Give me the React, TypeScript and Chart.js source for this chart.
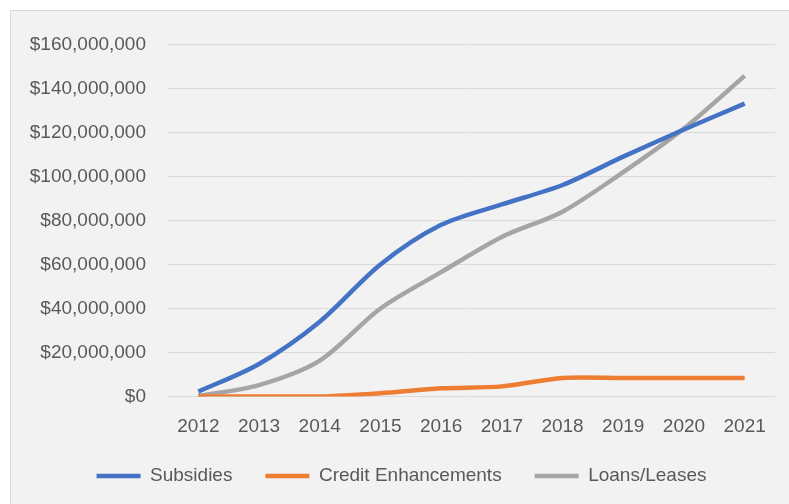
import React, { useEffect, useRef } from "react";
import { Chart, registerables } from "chart.js";

Chart.register(...registerables);

const years = ["2012", "2013", "2014", "2015", "2016", "2017", "2018", "2019", "2020", "2021"];
const subsidies = [2200000, 14800000, 34000000, 60000000, 78000000, 87300000, 96100000, 109000000, 121300000, 133100000];
const creditEnhancements = [0, 0, 0, 1500000, 3700000, 4600000, 8400000, 8400000, 8400000, 8400000];
const loansLeases = [300000, 5200000, 16300000, 40000000, 56500000, 72500000, 84000000, 102000000, 121800000, 145700000];
const yMin = 0;
const yMax = 160000000;
const yStep = 20000000;

const FONT = "'Liberation Sans', Arial, sans-serif";
const TEXT = "#595959";

export default function App() {
  const ref = useRef<HTMLCanvasElement | null>(null);
  useEffect(() => {
    if (!ref.current) return;
    const chart = new Chart(ref.current, {
      type: "line",
      data: {
        labels: years,
        datasets: [
          { label: "Subsidies", data: subsidies, borderColor: "#4472C4", backgroundColor: "#4472C4", borderWidth: 4.5, pointRadius: 0, pointStyle: "line", tension: 0.3 },
          { label: "Credit Enhancements", data: creditEnhancements, borderColor: "#ED7D31", backgroundColor: "#ED7D31", borderWidth: 4.5, pointRadius: 0, pointStyle: "line", tension: 0.3 },
          { label: "Loans/Leases", data: loansLeases, borderColor: "#A5A5A5", backgroundColor: "#A5A5A5", borderWidth: 4.5, pointRadius: 0, pointStyle: "line", tension: 0.3 },
        ],
      },
      options: {
        animation: false,
        responsive: true,
        maintainAspectRatio: false,
        layout: { padding: { left: 17, right: 14, top: 25, bottom: 8.5 } },
        plugins: {
          legend: {
            position: "bottom",
            labels: {
              usePointStyle: true,
              pointStyleWidth: 44,
              padding: 33,
              color: TEXT,
              font: { family: FONT, size: 19 },
            },
          },
          tooltip: { enabled: false },
        },
        scales: {
          x: {
            offset: true,
            grid: { display: false, drawTicks: false },
            border: { display: false },
            ticks: { color: TEXT, font: { family: FONT, size: 19 }, padding: 19, maxRotation: 0 },
            afterFit: (s: any) => { s.height = 37; },
          },
          y: {
            min: yMin,
            max: yMax,
            grid: { color: "#d9d9d9", lineWidth: 1, drawTicks: false },
            border: { display: false },
            ticks: {
              stepSize: yStep,
              padding: 22,
              color: TEXT,
              font: { family: FONT, size: 19 },
              callback: (v: any) => "$" + Number(v).toLocaleString("en-US"),
            },
            afterFit: (s: any) => { s.width = 140; },
          },
        },
      },
    });
    return () => chart.destroy();
  }, []);
  return (
    <div style={{ position: "fixed", left: 0, top: 0, width: 789, height: 504, background: "#ffffff" }}>
      <div style={{ position: "absolute", left: 10, top: 10, width: 779, height: 494, boxSizing: "border-box", background: "#f2f2f2", borderTop: "1px solid #d9d9d9", borderLeft: "1px solid #d9d9d9" }}>
        <div style={{ position: "relative", width: 778, height: 493 }}>
          <canvas ref={ref} />
        </div>
      </div>
    </div>
  );
}
